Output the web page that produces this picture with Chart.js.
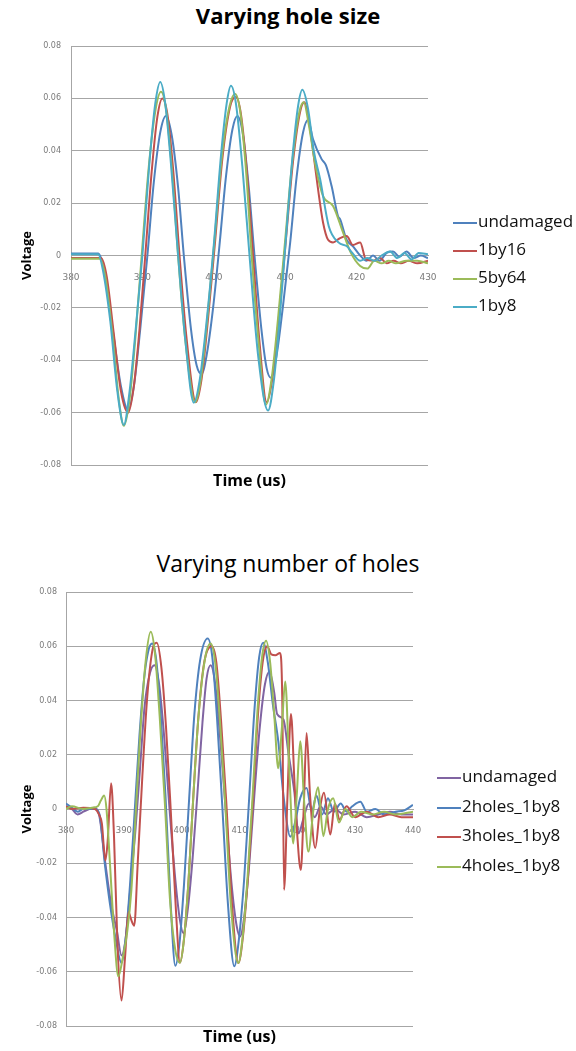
<!DOCTYPE html>
<html>
<head>
<meta charset="utf-8">
<script src="https://cdn.jsdelivr.net/npm/chart.js@4.4.0/dist/chart.umd.min.js"></script>
<style>
  html, body { margin: 0; padding: 0; background: #fff; }
  #page { position: relative; width: 576px; height: 1051px; overflow: hidden; font-family: 'Open Sans', sans-serif; }
  canvas { position: absolute; left: 0; }
  .ttl { position: absolute; left: 0; width: 576px; text-align: center; color: #000; white-space: nowrap; }
  .leg { position: absolute; font-size: 17px; line-height: 20px; color: #111; white-space: nowrap; }
  .sw { position: absolute; width: 24px; height: 2px; }
</style>
</head>
<body>
<div id="page">
  <div class="ttl" style="top:2px;font-size:22px;line-height:26px;font-weight:bold">Varying hole size</div>
  <canvas id="c1" width="576" height="495" style="top:0"></canvas>
  <div id="leg1"></div>
  <div class="ttl" style="top:550px;font-size:23px;line-height:26px">Varying number of holes</div>
  <canvas id="c2" width="576" height="511" style="top:540px"></canvas>
  <div id="leg2"></div>
</div>
<script>
// ---- top chart: varying hole size ([time us, voltage]) ----
const topNames = ['undamaged', '1by16', '5by64', '1by8'];
const topColors = ['#4F81BD', '#C0504D', '#9BBB59', '#4BACC6'];

const topUndamaged = [
  [380, 0.0008], [383.8, 0.0008], [384.6, -0.005], [385.9, -0.0295], [387.0, -0.05], [388.0, -0.059],
  [388.8, -0.05], [389.7, -0.028], [390.7, 0], [391.6, 0.028], [392.5, 0.047], [393.3, 0.0533],
  [394.1, 0.046], [395.0, 0.026], [395.8, 0], [396.8, -0.028], [397.6, -0.042], [398.3, -0.0452],
  [399.0, -0.038], [399.9, -0.02], [400.8, 0.004], [401.7, 0.03], [402.6, 0.048], [403.3, 0.0533],
  [404.1, 0.046], [404.9, 0.026], [405.7, 0], [406.7, -0.029], [407.4, -0.043], [408.0, -0.0467],
  [408.8, -0.038], [409.7, -0.019], [410.7, 0.005], [411.6, 0.03], [412.5, 0.047], [413.2, 0.0517],
  [413.9, 0.0444], [415.1, 0.0368], [415.7, 0.0345], [416.5, 0.0265], [417.4, 0.015], [417.7, 0.0138],
  [418.6, 0.006], [419.5, 0.0035], [420.5, 0], [421.4, -0.002], [422.3, 0], [423.2, -0.002],
  [424.2, 0.001], [425.1, 0.0015], [426.0, -0.0005], [427.0, 0.0015], [428.0, -0.001], [429.0, 0], [430, -0.001]
];
const top1by16 = [
  [380, -0.001], [384.2, -0.001], [385.0, -0.008], [386.0, -0.03], [387.0, -0.052], [388.0, -0.06],
  [388.8, -0.05], [389.6, -0.028], [390.4, 0], [391.3, 0.032], [392.1, 0.053], [392.8, 0.06],
  [393.5, 0.054], [394.3, 0.033], [395.2, 0], [396.2, -0.032], [397.5, -0.056], [398.3, -0.047],
  [399.2, -0.024], [400.2, 0.006], [401.2, 0.037], [402.3, 0.057], [403.1, 0.0605], [403.8, 0.054],
  [404.6, 0.033], [405.5, 0], [406.4, -0.033], [407.4, -0.056], [408.2, -0.047], [409.1, -0.024],
  [410.1, 0.006], [411.1, 0.036], [412.1, 0.055], [412.7, 0.0585], [413.4, 0.05], [414.0, 0.038],
  [414.6, 0.0253], [415.3, 0.0126], [416.0, 0.006], [416.7, 0.005], [417.6, 0.0065], [418.6, 0.0074],
  [419.5, 0.004], [420.5, 0.005], [421.3, -0.0015], [422.3, -0.002], [423.3, -0.001], [424.2, -0.003],
  [425.2, -0.002], [426.2, -0.003], [427.3, -0.002], [428.5, -0.003], [430, -0.002]
];
const top5by64 = [
  [380, -0.0012], [384.0, -0.0012], [384.8, -0.008], [385.8, -0.03], [386.7, -0.055], [387.4, -0.065],
  [388.2, -0.055], [389.0, -0.032], [389.9, 0], [390.9, 0.034], [391.8, 0.055], [392.6, 0.0625],
  [393.3, 0.056], [394.1, 0.034], [395.0, 0], [396.0, -0.032], [397.4, -0.056], [398.2, -0.047],
  [399.1, -0.024], [400.1, 0.006], [401.1, 0.037], [402.2, 0.057], [403.0, 0.0617], [403.7, 0.055],
  [404.5, 0.033], [405.3, 0], [406.3, -0.034], [407.3, -0.057], [408.1, -0.047], [409.0, -0.024],
  [410.0, 0.006], [411.0, 0.036], [412.0, 0.055], [412.6, 0.0585], [413.3, 0.05], [414.2, 0.035],
  [415.3, 0.0227], [416.7, 0.0189], [418.1, 0.0088], [419.2, 0.001], [420.5, -0.004], [421.5, -0.005],
  [422.5, -0.002], [423.5, -0.003], [424.5, -0.002], [425.5, -0.003], [427.0, -0.002], [428.5, -0.002], [430, -0.003]
];
const top1by8 = [
  [380, 0.0005], [383.8, 0.0005], [384.5, -0.006], [385.5, -0.025], [386.5, -0.052], [387.4, -0.0647],
  [388.2, -0.052], [389.0, -0.03], [390.0, 0], [391.0, 0.036], [391.8, 0.058], [392.5, 0.0663],
  [393.2, 0.058], [394.0, 0.035], [395.0, 0], [396.0, -0.032], [397.2, -0.0562], [398.0, -0.048],
  [399.0, -0.025], [400.0, 0.004], [401.0, 0.038], [401.8, 0.058], [402.4, 0.0648], [403.1, 0.058],
  [404.0, 0.034], [405.0, 0], [406.2, -0.038], [407.6, -0.0592], [408.4, -0.048], [409.2, -0.025],
  [410.0, 0.003], [411.0, 0.037], [411.8, 0.057], [412.4, 0.0633], [413.2, 0.056], [414.0, 0.04],
  [414.9, 0.029], [416.1, 0.0112], [417.5, 0.0049], [418.6, 0.0036], [419.4, 0.001], [420.5, -0.002],
  [421.5, -0.001], [422.5, -0.002], [423.5, 0], [424.7, 0.0015], [425.7, -0.001], [426.7, 0.001],
  [427.7, -0.0015], [428.7, 0.001], [430, 0.0005]
];

// ---- bottom chart: varying number of holes ----
const botNames = ['undamaged', '2holes_1by8', '3holes_1by8', '4holes_1by8'];
const botColors = ['#8064A2', '#4F81BD', '#C0504D', '#9BBB59'];

const botUndamaged = [
  [380, 0.001], [381, 0], [382, -0.002], [383, -0.001], [384, 0], [385.0, 0.0005], [385.8, -0.003],
  [386.8, -0.02], [387.8, -0.035], [388.8, -0.045], [389.6, -0.054], [390.3, -0.048], [391.1, -0.03],
  [392.0, -0.008], [392.8, 0.015], [393.6, 0.038], [394.5, 0.05], [395.3, 0.053], [396.1, 0.046],
  [397.0, 0.026], [397.9, 0], [398.9, -0.026], [399.7, -0.041], [400.3, -0.0458], [401.0, -0.038],
  [401.9, -0.018], [402.8, 0.008], [403.6, 0.032], [404.3, 0.048], [405.0, 0.053], [405.8, 0.046],
  [406.7, 0.025], [407.6, 0], [408.6, -0.027], [409.5, -0.043], [410.1, -0.047], [410.8, -0.04],
  [411.7, -0.02], [412.6, 0.006], [413.5, 0.03], [414.4, 0.046], [415.2, 0.0506], [416.0, 0.043],
  [416.5, 0.035], [417.6, 0.033], [418.5, 0.02], [419.5, 0.006], [420.2, -0.009], [421.0, -0.004],
  [422.0, 0.002], [423.0, -0.003], [424.0, 0.001], [425.0, -0.002], [426.5, 0], [428.0, -0.002],
  [430, -0.001], [432, -0.003], [434, -0.002], [436, -0.001], [438, -0.002], [440, -0.002]
];
const bot2holes = [
  [380, 0.002], [381, 0.0005], [382, -0.001], [383, 0], [384, 0], [385.0, 0], [385.8, -0.002],
  [386.7, -0.02], [387.6, -0.035], [388.6, -0.048], [389.6, -0.0568], [390.3, -0.048], [391.1, -0.027],
  [391.9, 0], [392.7, 0.027], [393.5, 0.048], [394.2, 0.058], [394.9, 0.061], [395.6, 0.055],
  [396.4, 0.034], [397.2, 0.005], [398.1, -0.035], [398.9, -0.0578], [399.6, -0.05], [400.4, -0.028],
  [401.3, 0.004], [402.2, 0.035], [403.2, 0.055], [404.5, 0.0629], [405.3, 0.056], [406.1, 0.034],
  [407.0, 0.002], [408.0, -0.035], [409.1, -0.058], [409.9, -0.048], [410.8, -0.026], [411.7, 0.005],
  [412.6, 0.037], [413.4, 0.056], [414.1, 0.0613], [414.9, 0.054], [415.8, 0.038], [416.7, 0.025],
  [417.6, 0.005], [418.8, -0.0102], [419.6, -0.005], [420.5, 0.004], [421.6, 0.0077], [422.5, -0.001],
  [423.3, 0.005], [424.3, -0.002], [425.3, 0.004], [426.3, -0.001], [427.5, 0.002], [428.5, -0.001],
  [429.5, 0.001], [430.9, 0.0027], [432, -0.001], [433.5, 0], [435, -0.002], [437, -0.001],
  [438.5, -0.0005], [440, 0.0015]
];
const bot3holes = [
  [380, 0.001], [381, 0], [383, 0.0005], [385.0, 0], [385.7, -0.002], [386.2, -0.0053], [386.8, -0.019],
  [387.2, -0.012], [387.8, 0.0095], [388.3, -0.01], [388.9, -0.05], [389.6, -0.0706], [390.2, -0.055],
  [390.8, -0.038], [391.3, -0.041], [391.8, -0.043], [392.4, -0.02], [393.2, 0.012], [394.0, 0.04],
  [394.9, 0.058], [395.7, 0.0613], [396.5, 0.052], [397.3, 0.03], [398.1, 0], [399.0, -0.037],
  [399.7, -0.0567], [400.4, -0.048], [401.2, -0.026], [402.0, 0.004], [402.9, 0.034], [403.9, 0.054],
  [405.2, 0.06], [406.0, 0.054], [406.8, 0.033], [407.7, 0.003], [408.7, -0.035], [409.8, -0.0568],
  [410.6, -0.047], [411.5, -0.024], [412.4, 0.006], [413.2, 0.035], [414.0, 0.054], [414.8, 0.06],
  [415.5, 0.057], [416.2, 0.0567], [417.0, 0.0575], [417.4, 0.04], [417.7, -0.0298], [418.3, 0.005],
  [418.9, 0.035], [419.5, 0.01], [420.0, -0.01], [420.6, -0.0225], [421.1, 0], [421.6, 0.028],
  [422.2, 0.005], [423.1, -0.0144], [423.9, 0], [424.6, 0.006], [425.7, -0.0094], [426.5, 0.002],
  [427.3, -0.004], [428.5, 0.001], [430, -0.003], [432, -0.001], [434, -0.003], [436, -0.002],
  [438, -0.003], [440, -0.003]
];
const bot4holes = [
  [380, 0], [381, 0.001], [383, 0], [384.5, 0.0005], [385.5, 0.001], [386.0, 0.003], [386.6, 0.005],
  [387.0, 0], [387.6, -0.02], [388.3, -0.045], [389.05, -0.0617], [389.8, -0.055], [390.6, -0.045],
  [391.3, -0.03], [392.1, 0], [392.9, 0.03], [393.8, 0.055], [394.65, 0.0653], [395.4, 0.057],
  [396.2, 0.034], [397.1, 0.002], [398.0, -0.034], [398.9, -0.052], [399.7, -0.0567], [400.4, -0.048],
  [401.2, -0.026], [402.0, 0.004], [402.9, 0.034], [404.0, 0.055], [405.0, 0.061], [405.8, 0.054],
  [406.6, 0.033], [407.5, 0.003], [408.5, -0.035], [409.8, -0.0568], [410.5, -0.048], [411.4, -0.025],
  [412.3, 0.006], [413.1, 0.036], [413.9, 0.056], [414.6, 0.062], [415.3, 0.054], [416.0, 0.035],
  [416.7, 0.015], [417.3, 0.029], [417.9, 0.047], [418.6, 0.015], [419.3, -0.0127], [419.9, 0.005],
  [420.5, 0.025], [421.2, 0.002], [421.9, -0.0157], [422.8, 0], [423.6, 0.008], [424.5, -0.01],
  [425.3, 0], [426.2, 0.004], [427.2, -0.005], [428.3, 0], [429.5, -0.003], [431, -0.001],
  [433, -0.002], [435, -0.001], [437, -0.002], [440, -0.001]
];

// axis ticks
const yMin = -0.08, yMax = 0.08, yStep = 0.02;
const xStep = 10;

Chart.defaults.font.family = "'Open Sans', sans-serif";

function makeChart(id, series, names, colors, xMax, box) {
  const datasets = series.map((s, i) => ({
    label: names[i],
    data: s.map(p => ({ x: p[0], y: p[1] })),
    borderColor: colors[i],
    borderWidth: 2,
    pointRadius: 0,
    cubicInterpolationMode: 'monotone',
    fill: false,
    xAxisID: 'x',
    yAxisID: 'y',
    order: series.length - i
  }));
  return new Chart(document.getElementById(id), {
    type: 'line',
    data: { datasets },
    options: {
      responsive: false,
      animation: false,
      devicePixelRatio: 1,
      layout: { padding: { left: 15, top: box.top, right: box.right, bottom: 0 } },
      plugins: { legend: { display: false }, tooltip: { enabled: false }, title: { display: false } },
      scales: {
        x: {
          type: 'linear', axis: 'x', position: { y: 0 },
          min: 380, max: xMax,
          grid: { display: false },
          border: { display: true, color: '#a6a6a6', width: 1 },
          ticks: {
            stepSize: xStep, autoSkip: false, maxRotation: 0, padding: 9,
            color: '#7a7a7a', font: { family: 'DejaVu Sans', size: box.xFont }
          }
        },
        y: {
          type: 'linear', position: 'left',
          min: yMin, max: yMax,
          grid: { color: '#a6a6a6', lineWidth: 1, drawTicks: false },
          border: { display: true, color: '#a6a6a6', width: 1 },
          ticks: {
            stepSize: yStep, padding: box.yPad, color: '#7a7a7a',
            font: { family: 'DejaVu Sans', size: 8 },
            callback: v => { const r = Math.round(v * 100) / 100; return r === 0 ? '0' : r.toFixed(2); }
          },
          title: {
            display: true, text: 'Voltage', color: '#000',
            font: { family: 'Open Sans', size: 13, weight: 'bold' }, padding: { top: 4, bottom: 4 }
          },
          afterFit: s => { s.width = box.yWidth; }
        },
        xt: {
          type: 'linear', axis: 'x', position: 'bottom',
          min: 380, max: xMax,
          grid: { display: false }, border: { display: false },
          ticks: { display: false },
          title: {
            display: true, text: 'Time (us)', color: '#000',
            font: { family: 'Open Sans', size: 16, weight: 'bold' }, padding: { top: 4, bottom: 4 }
          },
          afterFit: s => { s.height = box.xtHeight; }
        }
      }
    }
  });
}

function buildLegend(el, names, colors, lineX, rowY, gap) {
  names.forEach((n, i) => {
    const y = rowY + i * gap;
    const sw = document.createElement('div');
    sw.className = 'sw';
    sw.style.left = lineX + 'px';
    sw.style.top = (y - 1) + 'px';
    sw.style.background = colors[i];
    const tx = document.createElement('div');
    tx.className = 'leg';
    tx.textContent = n;
    tx.style.left = (lineX + 25) + 'px';
    tx.style.top = (y - 12) + 'px';
    el.appendChild(sw);
    el.appendChild(tx);
  });
}

makeChart('c1', [topUndamaged, top1by16, top5by64, top1by8], topNames, topColors, 430,
  { top: 46, right: 148, yWidth: 56, yPad: 10, xtHeight: 30, xFont: 9 });
makeChart('c2', [botUndamaged, bot2holes, bot3holes, bot4holes], botNames, botColors, 440,
  { top: 52, right: 163, yWidth: 51, yPad: 9, xtHeight: 25, xFont: 8.5 });

buildLegend(document.getElementById('leg1'), topNames, topColors, 453, 223, 28);
buildLegend(document.getElementById('leg2'), botNames, botColors, 437, 778, 29.5);
</script>
</body>
</html>
